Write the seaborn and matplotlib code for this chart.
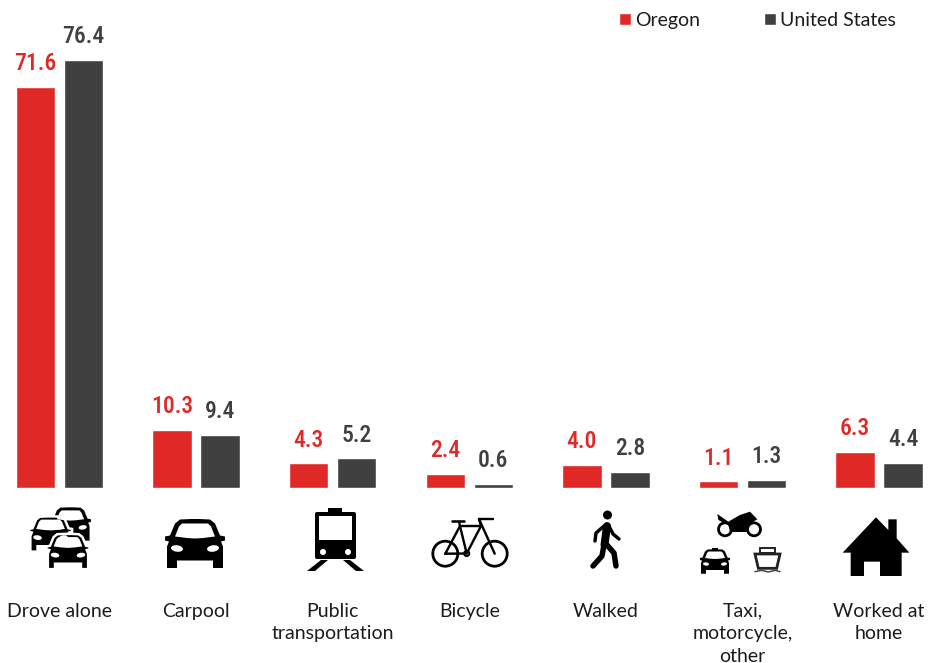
import matplotlib
matplotlib.use("Agg")
import matplotlib.pyplot as plt
import matplotlib.patches as mp
import pandas as pd
import seaborn as sns

categories = ["Drove alone", "Carpool", "Public\ntransportation", "Bicycle", "Walked",
              "Taxi,\nmotorcycle,\nother", "Worked at\nhome"]
oregon = [71.6, 10.3, 4.3, 2.4, 4.0, 1.1, 6.3]
united_states = [76.4, 9.4, 5.2, 0.6, 2.8, 1.3, 4.4]

RED = "#E02826"
GREY = "#404040"
BLACK = "#000000"
TEXT = "#1c1c1c"

sns.set_theme(style="white")
plt.rcParams["font.family"] = ["Lato", "DejaVu Sans"]

df = pd.DataFrame({
    "mode": categories * 2,
    "pct": oregon + united_states,
    "who": ["Oregon"] * 7 + ["United States"] * 7,
})

fig = plt.figure(figsize=(9.29, 6.63), dpi=100)
ax = fig.add_axes([0, (663 - 487.5) / 663, 1, 487.5 / 663])
sns.barplot(data=df, x="mode", y="pct", hue="who", palette=[RED, GREY], width=0.703, gap=0.18,
            saturation=1, ax=ax)
ax.set_xlim(-59.5 / 136.6, (929 - 59.5) / 136.6)
ax.set_ylim(0, 487.5 / 5.595)
ax.set_xlabel("")
ax.set_ylabel("")
ax.set_yticks([])
sns.despine(ax=ax, left=True, bottom=True)
ax.tick_params(axis="x", length=0, pad=83, labelsize=14, labelcolor=TEXT)
for t in ax.get_xticklabels():
    t.set_linespacing(1.39)

for cont, col in zip(ax.containers, [RED, GREY]):
    ax.bar_label(cont, fmt="%.1f", padding=8.5, color=col, fontsize=17, family="Roboto Condensed",
                 fontweight=500)

ax.legend(loc="upper left", bbox_to_anchor=(605.4 / 929, 1.003), bbox_transform=fig.transFigure, ncol=2,
          frameon=False, fontsize=14, handlelength=0.6, handleheight=0.6, handletextpad=0.22,
          columnspacing=3.3, labelcolor=TEXT, borderaxespad=0.3)

# icons, overlay in pixel coordinates
ic = fig.add_axes([0, 0, 1, 1], zorder=5)
ic.set_xlim(0, 929)
ic.set_ylim(663, 0)
ic.axis("off")
ic.patch.set_alpha(0)


def poly(pts, color=BLACK, **kw):
    ic.add_patch(mp.Polygon(pts, closed=True, facecolor=color, edgecolor=kw.pop("edge", "none"), **kw))


def line(pts, lw, color=BLACK):
    ic.plot([p[0] for p in pts], [p[1] for p in pts], color=color, lw=lw * 0.72,
            solid_capstyle="round", solid_joinstyle="round")


def mirror(half):
    return half + [(-x, y) for x, y in reversed(half)]


def car(cx, cy, s, halo=False):
    outer = [(4, -24.5), (15, -24), (20, -20), (25, -8), (30, -7), (30, -3), (26, -2), (28, 3), (28, 24.5),
             (18, 24.5), (18, 17), (4, 17)]
    window = [(4, -20), (13, -20), (16, -17), (20, -7), (8, -5.5), (0, -5)]
    sh = lambda pts: [(cx + x * s, cy + y * s) for x, y in mirror(pts)]
    if halo:
        poly(sh(outer), edge="white", linewidth=1.8, zorder=3)
    else:
        poly(sh(outer))
    poly(sh(window), color="white", zorder=4)
    for sgn in (-1, 1):
        ic.add_patch(mp.Ellipse((cx + sgn * 18 * s, cy + 5 * s), 12 * s, 6.5 * s, angle=-sgn * 8,
                                facecolor="white", edgecolor="none", zorder=4))


def z2(pts):
    return [(400 + x / 3, 490 + y / 3) for x, y in pts]


# drove alone
car(70.5, 524, 0.68)
car(50.5, 534, 0.72, halo=True)
car(68, 551.5, 0.72, halo=True)
# carpool
car(195, 543.5, 1.0)

# public transportation
ic.add_patch(mp.FancyBboxPatch((317, 514), 37, 43, boxstyle="round,pad=2", facecolor=BLACK, edgecolor="none"))
ic.add_patch(mp.Rectangle((328, 508), 14, 5, facecolor=BLACK, edgecolor="none"))
ic.add_patch(mp.Rectangle((319, 516), 33, 24, facecolor="white", edgecolor="none"))
for x in (323, 348):
    ic.add_patch(mp.Circle((x, 552), 3, facecolor="white", edgecolor="none"))
poly([(307, 571), (321, 560), (328, 560), (315, 571)])
poly([(364, 571), (350, 560), (343, 560), (356, 571)])

# bicycle
for x in (445.3, 494.7):
    ic.add_patch(mp.Circle((x, 553.7), 12.5, facecolor="none", edgecolor=BLACK, lw=2.0))
ic.add_patch(mp.Circle((466.7, 553.5), 2.6, facecolor="none", edgecolor=BLACK, lw=1.4))
line([(445.3, 553.7), (466.7, 553.5), (481, 526), (460, 526), (445.3, 553.7)], 2.4)
line([(459, 522), (466.7, 553.5)], 2.4)
line([(481, 526), (479, 519), (493, 519)], 2.4)
line([(479, 519), (494.7, 553.7)], 2.4)
line([(452, 521), (464, 521)], 2.6)

# walked
ic.add_patch(mp.Circle((607.5, 515), 4.5, facecolor=BLACK, edgecolor="none"))
line([(607, 526), (604.5, 545)], 8)
line([(604, 526), (596, 533), (595, 541)], 3.4)
line([(609, 526), (613, 534), (619, 539)], 3.4)
line([(604, 545), (602, 556), (593, 566)], 5.5)
line([(607, 545), (614, 553), (616, 566)], 5.5)

# taxi, motorcycle, other
for x in (725, 754):
    ic.add_patch(mp.Circle((x, 529.3), 6.5, facecolor="none", edgecolor=BLACK, lw=2.0))
poly(z2([(952, 72), (985, 95), (1020, 75), (1050, 65), (1072, 88), (1050, 100), (1040, 126), (990, 126),
         (985, 105), (955, 90)]))
car(715, 561.5, 0.5)
ic.add_patch(mp.Rectangle((712, 547.5), 6, 2.5, facecolor=BLACK, edgecolor="none"))
poly(z2([(1065, 192), (1140, 192), (1130, 235), (1075, 235)]), color="white", edge="#222222", linewidth=2)
ic.add_patch(mp.Rectangle((760, 548), 15, 5, facecolor="none", edgecolor="#222222", lw=1.4))
line(z2([(1065, 245), (1085, 241), (1105, 246), (1125, 241), (1140, 245)]), 1.5, "#444444")

# worked at home
poly(z2([(1328, 188), (1428, 82), (1465, 120), (1465, 88), (1490, 88), (1490, 145), (1528, 188), (1505, 188),
         (1505, 258), (1440, 258), (1440, 215), (1392, 215), (1392, 258), (1352, 258), (1352, 188)]))

fig.savefig("out.png", dpi=100)
